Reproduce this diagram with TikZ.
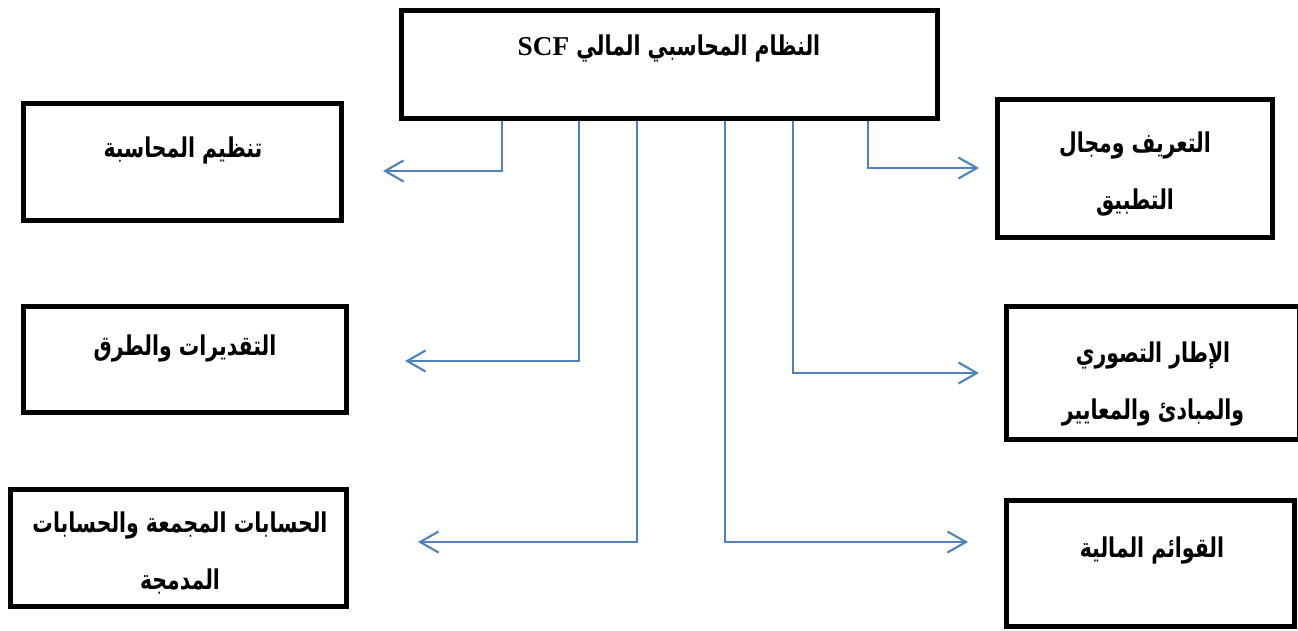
\documentclass[tikz,border=0pt]{standalone}
\usepackage{fontspec}
\setmainfont{Liberation Serif}
\newfontfamily\arabicfont[Script=Arabic,FakeStretch=0.75]{DejaVu Sans}
\TeXXeTstate=1
\usetikzlibrary{arrows.meta}
\definecolor{linkblue}{HTML}{4F81BD}
\newcommand{\ar}[1]{{\arabicfont\bfseries\beginR #1\endR}}

\begin{document}
\begin{tikzpicture}
		[x=0.02cm,y=-0.02cm,
		box/.style={draw,line width=2.8pt,inner sep=0pt},
		txt/.style={align=center,font=\fontsize{15.5}{32}\selectfont},
		link/.style={draw=linkblue,line width=1.2pt,-{Straight Barb[length=10.5pt,width=12pt,line width=1.2pt]}}]
		\useasboundingbox (0,0) rectangle (1298,630);

		\node[box,minimum width=10.72cm,minimum height=2.16cm] (top) at (669.5,64.5) {};
		\node[box,minimum width=6.36cm,minimum height=2.34cm] (tl) at (182.5,162) {};
		\node[box,minimum width=6.46cm,minimum height=2.12cm] (ml) at (185,359.5) {};
		\node[box,minimum width=6.72cm,minimum height=2.34cm] (bl) at (178.5,548) {};
		\node[box,minimum width=5.5cm,minimum height=2.76cm] (tr) at (1135,168.5) {};
		\node[box,minimum width=5.86cm,minimum height=2.66cm] (mr) at (1153,373) {};
		\node[box,minimum width=5.76cm,minimum height=2.52cm] (br) at (1150.5,563.5) {};

		\node[txt] (ttop) at (669,48) {{\arabicfont\bfseries\beginR النظام المحاسبي المالي \beginL{\rmfamily\bfseries\fontsize{15.5}{32}\selectfont SCF}\endL\endR}};
		\node[txt] (ttl) at (183,150) {\ar{تنظيم المحاسبة}};
		\node[txt] (tml) at (185,348) {\ar{التقديرات والطرق}};
		\node[txt] (tbl) at (180,553) {\ar{الحسابات المجمعة والحسابات}\\\ar{المدمجة}};
		\node[txt] (ttr) at (1135,174) {\ar{التعريف ومجال}\\\ar{التطبيق}};
		\node[txt] (tmr) at (1153,384) {\ar{الإطار التصوري}\\\ar{والمبادئ والمعايير}};
		\node[txt] (tbr) at (1152,550) {\ar{القوائم المالية}};

		\coordinate (d1) at (502,171);
		\coordinate (a1) at (383,171);
		\coordinate (d2) at (579,361);
		\coordinate (a2) at (405,361);
		\coordinate (d3) at (637,542);
		\coordinate (a3) at (418,542);
		\coordinate (d4) at (725,542);
		\coordinate (a4) at (968,542);
		\coordinate (d5) at (793,373);
		\coordinate (a5) at (979,373);
		\coordinate (d6) at (868,168);
		\coordinate (a6) at (979,168);

		\draw[link] (top.south -| d1) -- (d1) -- (a1);
		\draw[link] (top.south -| d2) -- (d2) -- (a2);
		\draw[link] (top.south -| d3) -- (d3) -- (a3);
		\draw[link] (top.south -| d4) -- (d4) -- (a4);
		\draw[link] (top.south -| d5) -- (d5) -- (a5);
		\draw[link] (top.south -| d6) -- (d6) -- (a6);

	\end{tikzpicture}
\end{document}
